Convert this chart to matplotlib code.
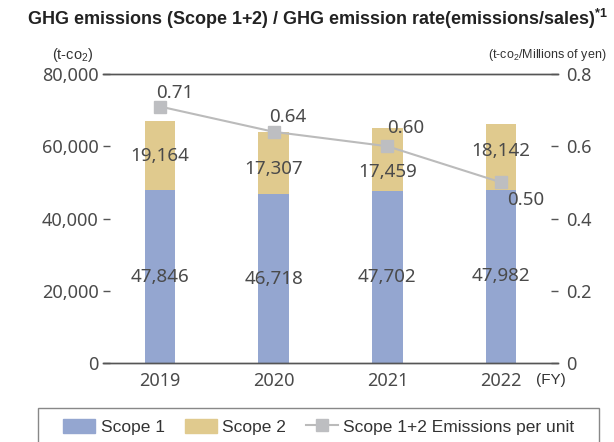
import matplotlib
matplotlib.use('Agg')
import matplotlib.pyplot as plt
from matplotlib.patches import Rectangle
from matplotlib.lines import Line2D
import numpy as np

years = ["2019", "2020", "2021", "2022"]
scope1 = [47846, 46718, 47702, 47982]
scope2 = [19164, 17307, 17459, 18142]
rate = [0.71, 0.64, 0.60, 0.50]

c_s1 = "#94a6d0"
c_s2 = "#e0ca8e"
c_line = "#bbbbbb"
c_mark = "#bdbec1"
c_text = "#4a4a4a"

plt.rcParams['font.family'] = ['Noto Sans', 'DejaVu Sans']
plt.rcParams['font.weight'] = 'light'
plt.rcParams['mathtext.fontset'] = 'custom'
plt.rcParams['mathtext.rm'] = 'Liberation Sans'
plt.rcParams['mathtext.bf'] = 'Liberation Sans:bold'

fig = plt.figure(figsize=(6.14, 4.42), dpi=100)
ax = fig.add_axes([0.1678, 0.1787, 0.741, 0.6539])
ax2 = ax.twinx()

x = np.arange(len(years))
w = 0.27
ax.bar(x, scope1, w, color=c_s1, zorder=2)
ax.bar(x, scope2, w, bottom=scope1, color=c_s2, zorder=2)

# bar value labels (nudged a bit so they dodge the line)
s2_nudge = [0, -4, -9, 4]
for i in range(len(years)):
    ax.annotate(f"{scope1[i]:,}", (x[i], scope1[i] / 2), ha='center', va='center',
                fontsize=13.5, color=c_text, zorder=5)
    ax.annotate(f"{scope2[i]:,}", (x[i], scope1[i] + scope2[i] / 2),
                xytext=(0, s2_nudge[i]), textcoords='offset points',
                ha='center', va='center', fontsize=13.5, color=c_text, zorder=5)

ax2.plot(x, rate, color=c_line, lw=1.5, marker='s', ms=8, mfc=c_mark, mec=c_mark, zorder=3)
rate_off = [(11, 10), (10, 11), (13, 13), (18, -13)]
for i in range(len(years)):
    ax2.annotate(f"{rate[i]:.2f}", (x[i], rate[i]), xytext=rate_off[i],
                 textcoords='offset points', ha='center', va='center',
                 fontsize=13.5, color=c_text)

ax.set_xlim(-0.5, 3.5)
ax.set_ylim(0, 80000)
ax2.set_ylim(0, 0.8)
ax.set_yticks([0, 20000, 40000, 60000, 80000])
ax.set_yticklabels(["0", "20,000", "40,000", "60,000", "80,000"])
ax2.set_yticks([0, 0.2, 0.4, 0.6, 0.8])
ax2.set_yticklabels(["0", "0.2", "0.4", "0.6", "0.8"])
ax.set_xticks(x)
ax.set_xticklabels(years)

for a in (ax, ax2):
    a.spines['left'].set_visible(False)
    a.spines['right'].set_visible(False)
    a.spines['top'].set_color("#555555")
    a.spines['bottom'].set_color("#555555")
    a.spines['top'].set_linewidth(1.0)
    a.spines['bottom'].set_linewidth(1.0)
ax.tick_params(axis='y', direction='in', length=5, width=1, color="#555555",
               labelsize=13, labelcolor=c_text, pad=3)
ax2.tick_params(axis='y', direction='in', length=5, width=1, color="#555555",
                labelsize=13, labelcolor=c_text, pad=6)
ax.tick_params(axis='x', length=0, labelsize=13, labelcolor=c_text, pad=6.5)

fig.text(0.044, 0.957, r"GHG emissions (Scope 1+2) / GHG emission rate(emissions/sales)$^\mathbf{*1}$",
         fontsize=13, fontweight='bold', color="#222222", ha='left', va='center',
         family=['Liberation Sans', 'DejaVu Sans'])
fig.text(0.085, 0.876, "(t-co$_2$)", fontsize=10.5, color="#333333", ha='left', va='center',
         family=['Liberation Sans', 'DejaVu Sans'])
fig.text(0.987, 0.876, "(t-co$_2$/Millions of yen)", fontsize=9, color="#333333",
         ha='right', va='center', family=['Liberation Sans', 'DejaVu Sans'])
fig.text(0.873, 0.140, "(FY)", fontsize=11, color="#333333", ha='left', va='center',
         family=['Liberation Sans', 'DejaVu Sans'])

# legend box, cut off by the bottom edge like the original
fig.patches.append(Rectangle((0.0619, -0.05), 0.9137, 0.1269, transform=fig.transFigure,
                             fill=False, edgecolor="#888888", lw=1.0))
handles = [Rectangle((0, 0), 1, 1, color=c_s1),
           Rectangle((0, 0), 1, 1, color=c_s2),
           Line2D([], [], color=c_line, lw=1.5, marker='s', ms=8, mfc=c_mark, mec=c_mark)]
fig.legend(handles, ["Scope 1", "Scope 2", "Scope 1+2 Emissions per unit"],
           loc='center', bbox_to_anchor=(0.519, 0.034), ncol=3, frameon=False,
           prop={'family': 'Liberation Sans', 'size': 12.5}, labelcolor="#333333",
           handlelength=1.85, handleheight=0.87, columnspacing=1.15, handletextpad=0.3)

fig.savefig("out.png", dpi=100)
